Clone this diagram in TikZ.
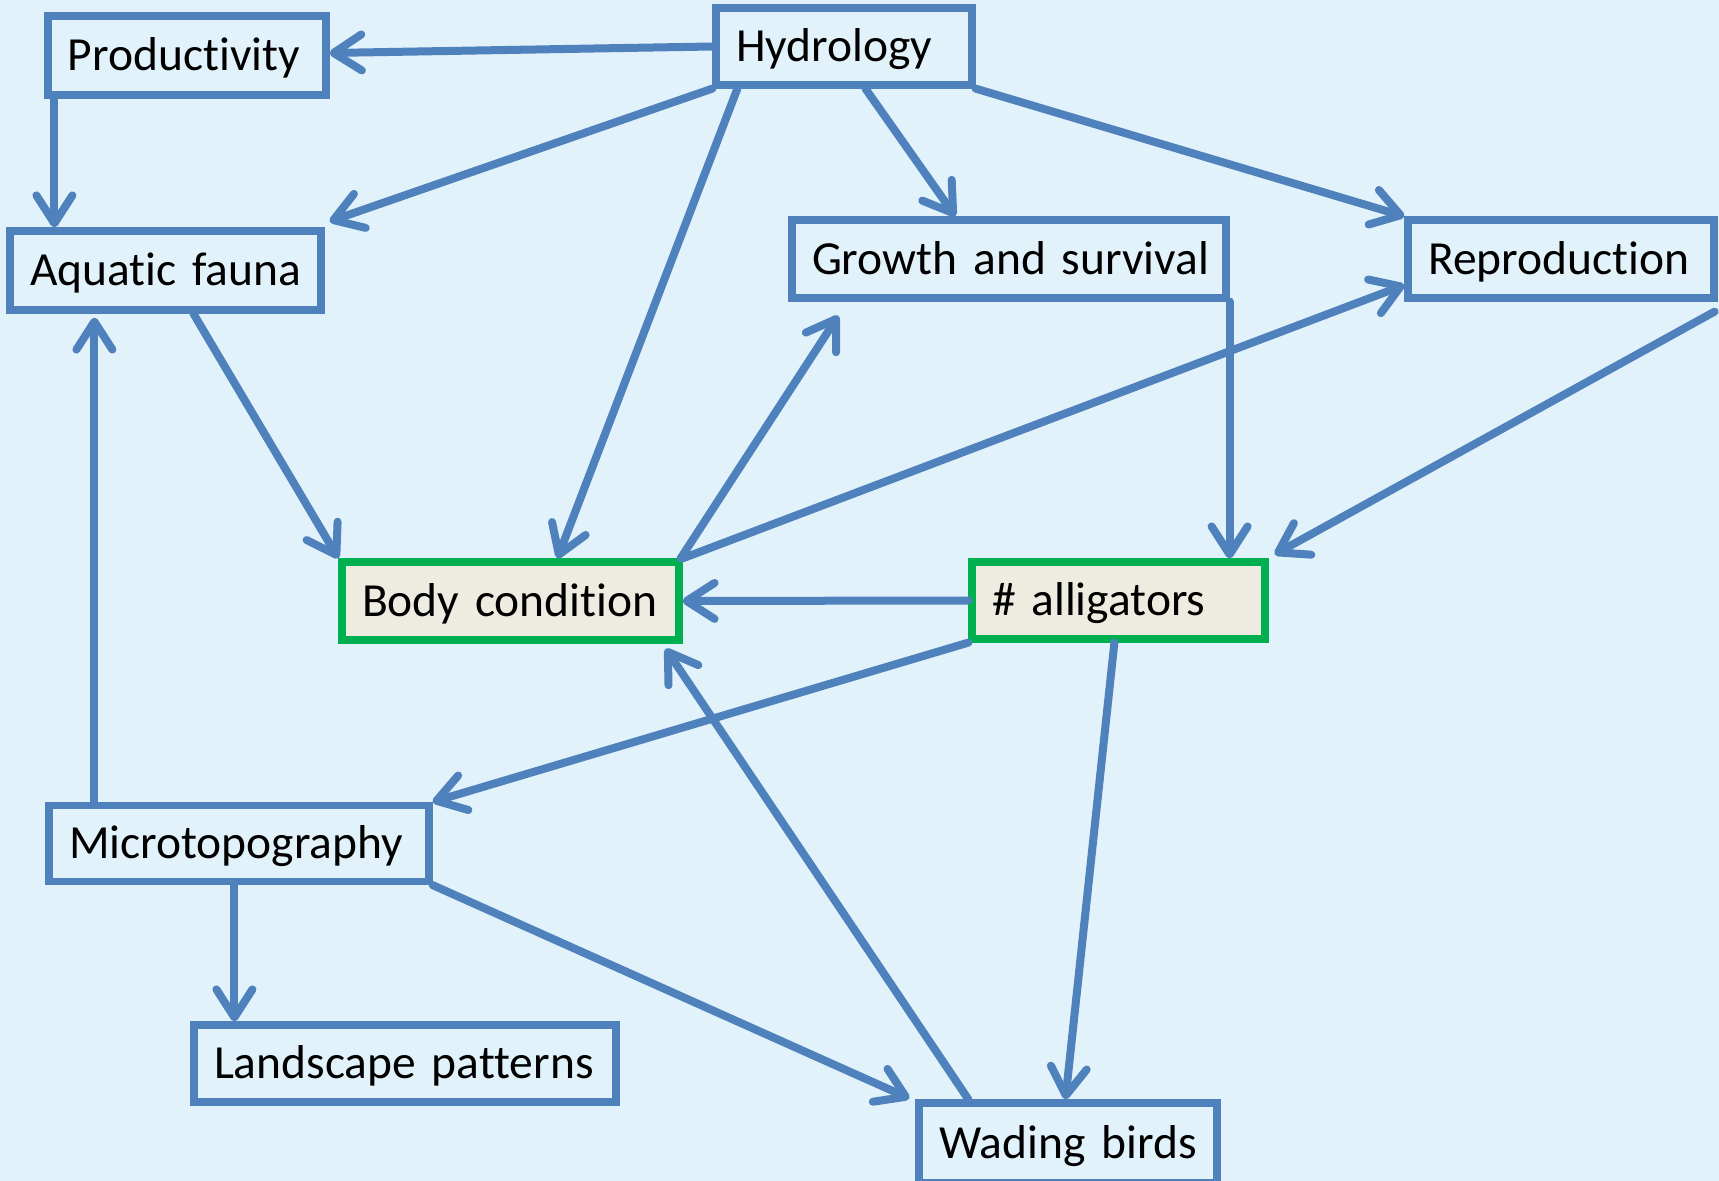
\documentclass[tikz,border=0pt]{standalone}
\usepackage{fontspec}
\setmainfont{Carlito}[Ligatures=NoCommon,WordSpace=0.85]
\usetikzlibrary{arrows.meta,calc}
\definecolor{bg}{HTML}{E2F2FA}
\definecolor{lineblue}{HTML}{4F81BD}
\definecolor{boxgreen}{HTML}{00B050}
\definecolor{boxfill}{HTML}{EEECE1}
\begin{document}
\begin{tikzpicture}[x=0.5pt,y=-0.5pt,
  box/.style={draw=lineblue, line width=3.6pt, fill=bg, inner xsep=10pt, inner ysep=0pt,
    align=left, text height=15.3pt, text depth=0pt,
    font=\fontsize{23.75}{28}\selectfont, anchor=center},
  gbox/.style={box, draw=boxgreen, fill=boxfill},
  conn/.style={draw=lineblue, line width=4pt, line cap=round,
    -{Straight Barb[length=14pt,width=18pt,round]}}
]
\useasboundingbox (0,0) rectangle (1719,1181);
\clip (0,0) rectangle (1719,1181);
\fill[bg] (0,0) rectangle (1719,1181);

\node[box, text width=119pt, minimum width=139pt, minimum height=39.5pt] (prod) at (187,55.5) {\mbox{Productivity}};
\node[box, text width=108pt, minimum width=128pt, minimum height=38.5pt] (hyd) at (844,46.5) {\mbox{Hydrology}};
\node[box, text width=135.5pt, minimum width=155.5pt, minimum height=39.5pt] (aq) at (165.5,270.5) {\mbox{Aquatic fauna}};
\node[box, text width=197pt, minimum width=217pt, minimum height=39pt] (growth) at (1009,259) {\mbox{Growth and survival}};
\node[box, text width=133pt, minimum width=153pt, minimum height=39pt] (repro) at (1561,259) {\mbox{Reproduction}};
\node[gbox, text width=148.5pt, minimum width=168.5pt, minimum height=39pt] (body) at (510.5,601) {\mbox{Body condition}};
\node[gbox, text width=126.5pt, minimum width=146.5pt, minimum height=38.5pt] (all) at (1118.5,600.5) {\mbox{\# alligators}};
\node[box, text width=170pt, minimum width=190pt, minimum height=38pt] (micro) at (239,843.5) {\mbox{Microtopography}};
\node[box, text width=191pt, minimum width=211pt, minimum height=38.5pt] (land) at (405,1063.5) {\mbox{Landscape patterns}};
\node[box, text width=129pt, minimum width=149pt, minimum height=40pt] (wading) at (1068,1143) {\mbox{Wading birds}};

\draw[conn] (hyd.west) -- ($(prod.east)+(0,-2.5)$);
\draw[conn] ($(prod.south west)+(10,0)$) -- ($(aq.north west)+(48,0)$);
\draw[conn] (hyd.south west) -- ($(aq.north east)+(5,-6)$);
\draw[conn] ($(hyd.south west)+(25,0)$) -- ($(body.north west)+(219,0)$);
\draw[conn] ($(hyd.south west)+(153,0)$) -- ($(growth.north west)+(167,0)$);
\draw[conn] (hyd.south east) -- (repro.north west);
\draw[conn] (growth.south east) -- (growth.south east |- all.north);
\draw[conn] ($(repro.south east)+(-3,10)$) -- ($(all.north east)+(6,-4)$);
\draw[conn] (body.north east) -- ($(repro.west)+(0,26)$);
\draw[conn] ($(body.north east)+(-2,0)$) -- ($(growth.south west)+(50,14)$);
\draw[conn] (all.west) -- (body.east);
\draw[conn] (all.south west) -- (micro.north east);
\draw[conn] ($(all.south west)+(146,0)$) -- ($(wading.north west)+(150,0)$);
\draw[conn] ($(wading.north west)+(53,0)$) -- ($(body.south east)+(-17,5)$);
\draw[conn] ($(micro.north west)+(49,0)$) -- ($(aq.south west)+(88,4)$);
\draw[conn] ($(aq.south west)+(187,0)$) -- (body.north west);
\draw[conn] ($(micro.south west)+(189,0)$) -- ($(land.north west)+(44,0)$);
\draw[conn] (micro.south east) -- ($(wading.north west)+(-6,-1)$);
\end{tikzpicture}
\end{document}
